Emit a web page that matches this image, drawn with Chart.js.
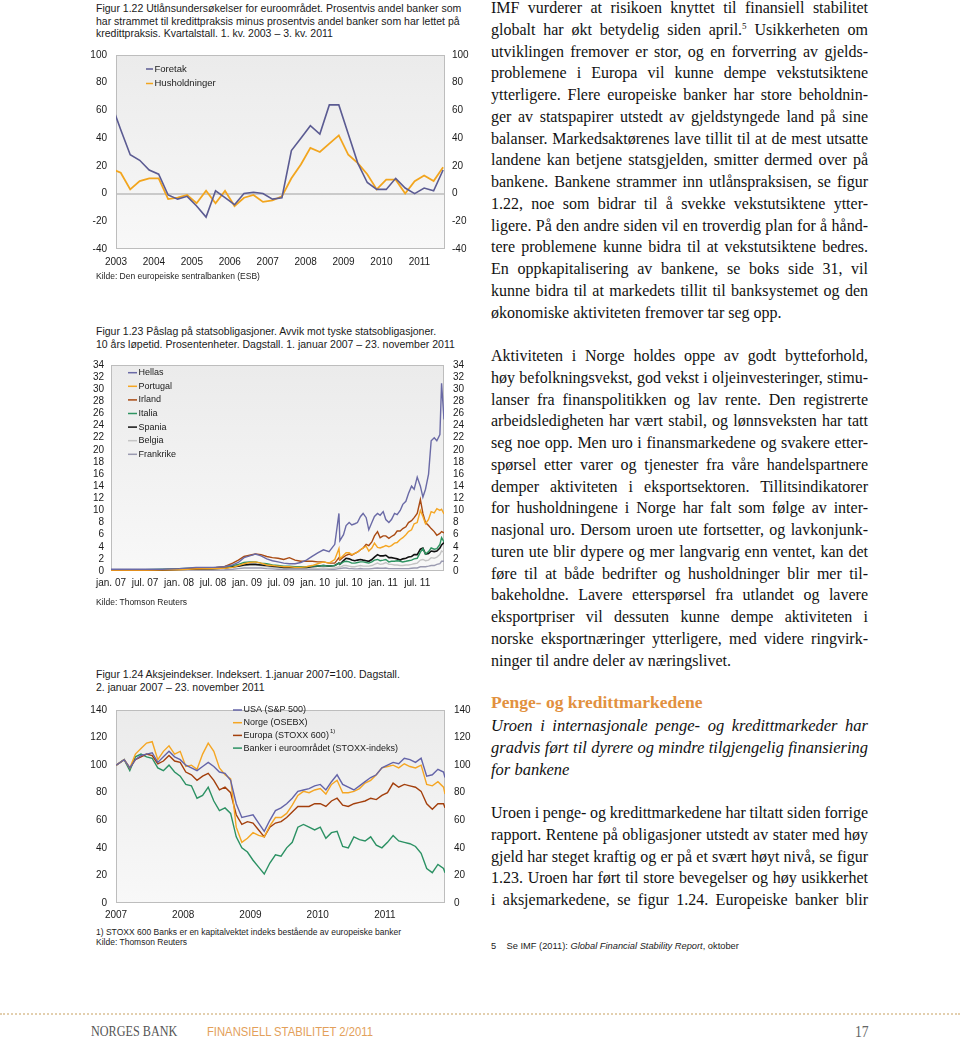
<!DOCTYPE html>
<html><head><meta charset="utf-8">
<script src="https://cdn.jsdelivr.net/npm/chart.js@4.4.1/dist/chart.umd.min.js"></script>
<style>
body{margin:0;background:#fff;}
#page{position:relative;width:960px;height:1041px;overflow:hidden;background:#fff;}
.t{position:absolute;left:96px;font-family:"Liberation Sans",Arial,sans-serif;font-size:10.5px;line-height:12.5px;color:#1a1a1a;white-space:nowrap;}
.src{position:absolute;left:96px;font-family:"Liberation Sans",Arial,sans-serif;font-size:8.5px;line-height:10px;color:#222;white-space:nowrap;}
canvas{position:absolute;left:0;}
.col{position:absolute;left:491px;width:377px;font-family:"Liberation Serif","Times New Roman",serif;font-size:16px;line-height:21.75px;color:#111;}
.col div{text-align:justify;text-align-last:justify;height:21.75px;word-spacing:-1.5px;}
.col div.l{text-align-last:left;word-spacing:0;}
.col sup{font-size:9px;line-height:0;vertical-align:6px;}
.hd{position:absolute;left:491px;font-family:"Liberation Serif",serif;font-weight:bold;font-size:17.5px;color:#e2913f;line-height:21.75px;white-space:nowrap;}
.fn{position:absolute;left:491px;font-family:"Liberation Sans",Arial,sans-serif;font-size:9.3px;color:#222;white-space:nowrap;}
.foot{position:absolute;white-space:nowrap;transform-origin:left center;}
</style></head>
<body><div id="page">

<div class="t" style="top:2px">Figur 1.22 Utlånsundersøkelser for euroområdet. Prosentvis andel banker som<br>har strammet til kredittpraksis minus prosentvis andel banker som har lettet på<br>kredittpraksis. Kvartalstall. 1. kv. 2003 – 3. kv. 2011</div>
<canvas id="c1" width="480" height="245" style="top:40px"></canvas>
<div class="src" style="top:271px">Kilde: Den europeiske sentralbanken (ESB)</div>

<div class="t" style="top:325px;line-height:13px">Figur 1.23 Påslag på statsobligasjoner. Avvik mot tyske statsobligasjoner.<br>10 års løpetid. Prosentenheter. Dagstall. 1. januar 2007 – 23. november 2011</div>
<canvas id="c2" width="480" height="250" style="top:350px"></canvas>
<div class="src" style="top:597px">Kilde: Thomson Reuters</div>

<div class="t" style="top:668px">Figur 1.24 Aksjeindekser. Indeksert. 1.januar 2007=100. Dagstall.<br>2. januar 2007 – 23. november 2011</div>
<canvas id="c3" width="480" height="230" style="top:695px"></canvas>
<div class="src" style="top:927px">1) STOXX 600 Banks er en kapitalvektet indeks bestående av europeiske banker</div>
<div class="src" style="top:937px">Kilde: Thomson Reuters</div>

<div class="col" style="top:-3px">
<div>IMF vurderer at risikoen knyttet til finansiell stabilitet</div>
<div>globalt har økt betydelig siden april.<sup>5</sup> Usikkerheten om</div>
<div>utviklingen fremover er stor, og en forverring av gjelds-</div>
<div>problemene i Europa vil kunne dempe vekstutsiktene</div>
<div>ytterligere. Flere europeiske banker har store beholdnin-</div>
<div>ger av statspapirer utstedt av gjeldstyngede land på sine</div>
<div>balanser. Markedsaktørenes lave tillit til at de mest utsatte</div>
<div>landene kan betjene statsgjelden, smitter dermed over på</div>
<div>bankene. Bankene strammer inn utlånspraksisen, se figur</div>
<div>1.22, noe som bidrar til å svekke vekstutsiktene ytter-</div>
<div>ligere. På den andre siden vil en troverdig plan for å hånd-</div>
<div>tere problemene kunne bidra til at vekstutsiktene bedres.</div>
<div>En oppkapitalisering av bankene, se boks side 31, vil</div>
<div>kunne bidra til at markedets tillit til banksystemet og den</div>
<div class="l">økonomiske aktiviteten fremover tar seg opp.</div>
</div>

<div class="col" style="top:345px">
<div>Aktiviteten i Norge holdes oppe av godt bytteforhold,</div>
<div>høy befolkningsvekst, god vekst i oljeinvesteringer, stimu-</div>
<div>lanser fra finanspolitikken og lav rente. Den registrerte</div>
<div>arbeidsledigheten har vært stabil, og lønnsveksten har tatt</div>
<div>seg noe opp. Men uro i finansmarkedene og svakere etter-</div>
<div>spørsel etter varer og tjenester fra våre handelspartnere</div>
<div>demper aktiviteten i eksportsektoren. Tillitsindikatorer</div>
<div>for husholdningene i Norge har falt som følge av inter-</div>
<div>nasjonal uro. Dersom uroen ute fortsetter, og lavkonjunk-</div>
<div>turen ute blir dypere og mer langvarig enn ventet, kan det</div>
<div>føre til at både bedrifter og husholdninger blir mer til-</div>
<div>bakeholdne. Lavere etterspørsel fra utlandet og lavere</div>
<div>eksportpriser vil dessuten kunne dempe aktiviteten i</div>
<div>norske eksportnæringer ytterligere, med videre ringvirk-</div>
<div class="l">ninger til andre deler av næringslivet.</div>
</div>

<div class="hd" style="top:692px">Penge- og kredittmarkedene</div>
<div class="col" style="top:715px;font-style:italic;font-size:16.5px">
<div>Uroen i internasjonale penge- og kredittmarkeder har</div>
<div>gradvis ført til dyrere og mindre tilgjengelig finansiering</div>
<div class="l">for bankene</div>
</div>

<div class="col" style="top:802px">
<div>Uroen i penge- og kredittmarkedene har tiltatt siden forrige</div>
<div>rapport. Rentene på obligasjoner utstedt av stater med høy</div>
<div>gjeld har steget kraftig og er på et svært høyt nivå, se figur</div>
<div>1.23. Uroen har ført til store bevegelser og høy usikkerhet</div>
<div>i aksjemarkedene, se figur 1.24. Europeiske banker blir</div>
</div>

<div class="fn" style="top:941px">5&nbsp;&nbsp;&nbsp; Se IMF (2011): <i>Global Financial Stability Report</i>, oktober</div>

<div style="position:absolute;left:0;top:1013px;width:960px;border-top:2px dotted #e3cfae;"></div>
<div class="foot" style="left:91px;top:1024px;font-family:'Liberation Serif',serif;font-size:14px;color:#555;transform:scaleX(0.87)">NORGES BANK</div>
<div class="foot" style="left:207px;top:1025px;font-family:'Liberation Sans',sans-serif;font-size:12.5px;color:#e3a05a;transform:scaleX(0.9)">FINANSIELL STABILITET 2/2011</div>
<div class="foot" style="left:855px;top:1023px;font-family:'Liberation Serif',serif;font-size:16px;color:#666;transform:scaleX(0.85)">17</div>

</div>
<script>
// ---------- Figur 1.22 ----------
const kvartal = ['2002K4','2003K1','2003K2','2003K3','2003K4','2004K1','2004K2','2004K3','2004K4',
 '2005K1','2005K2','2005K3','2005K4','2006K1','2006K2','2006K3','2006K4','2007K1','2007K2','2007K3','2007K4',
 '2008K1','2008K2','2008K3','2008K4','2009K1','2009K2','2009K3','2009K4','2010K1','2010K2','2010K3','2010K4',
 '2011K1','2011K2','2011K3'];
const foretak = [65,46,28,24,17,14,-1,-4,-2,-9,-17,2,-3,-8,0,1,0,-4,-3,31,40,49,43,64,64,43,22,8,3,3,11,4,0,4,2,17];
const husholdninger = [18,15,3,9,11,11,-4,-3,-1,-7,2,-7,2,-9,-3,-1,-6,-5,-2,11,21,33,30,36,42,28,22,14,3,10,10,0,9,13,9,19];
const aarstall1 = ['2003','2004','2005','2006','2007','2008','2009','2010','2011'];

// ---------- Figur 1.23 ----------
const datoer23 = ['2007-01-01','2007-04-01','2007-07-01','2007-10-01','2008-01-01','2008-04-01','2008-07-01','2008-09-01',
 '2008-10-15','2008-11-15','2008-12-15','2009-01-15','2009-02-15','2009-03-15','2009-04-15','2009-05-15','2009-06-15',
 '2009-07-15','2009-08-15','2009-09-15','2009-10-15','2009-11-15','2009-12-15',
 '2010-01-15','2010-02-15','2010-03-15','2010-04-15','2010-05-07','2010-05-12','2010-06-01','2010-06-15','2010-07-01','2010-07-15',
 '2010-08-01','2010-08-15','2010-09-01','2010-09-15','2010-10-01','2010-10-15','2010-11-01','2010-11-15','2010-12-01','2010-12-15',
 '2011-01-01','2011-01-15','2011-02-01','2011-02-15','2011-03-01','2011-03-15','2011-04-01','2011-04-15','2011-05-01','2011-05-15',
 '2011-06-01','2011-06-15','2011-07-01','2011-07-18','2011-08-01','2011-08-15','2011-09-01','2011-09-15','2011-10-01','2011-10-15',
 '2011-11-01','2011-11-10','2011-11-23'];
const hellas = [0.3,0.3,0.3,0.3,0.4,0.6,0.6,0.7,
 1.0,1.4,2.2,2.5,2.8,2.5,2.0,1.7,1.5,1.3,1.2,1.2,1.4,1.8,2.4,
 3.0,3.5,3.2,4.4,9.5, 5.0,6.0,7.5,8.0,7.6, 7.8,8.0,9.0,9.5,8.8, 6.8,8.0,9.0,9.5,9.2,
 9.8,8.5,8.0,8.5,9.5, 9.3,10.0,11.0,11.5,12.8, 14.0,13.5,15.5,14.0,12.2, 13.5,16.0,21.5,22.0,21.5, 22.5,31.0,25.0];
const portugal = [0.15,0.15,0.15,0.2,0.2,0.35,0.4,0.45,
 0.6,0.9,1.2,1.4,1.5,1.3,1.0,0.9,0.8,0.7,0.7,0.6,0.6,0.7,0.9,
 1.2,1.5,1.3,1.9,3.7, 2.0,2.6,3.0,3.0,2.7, 2.9,3.1,3.5,3.8,4.1, 3.3,3.8,4.6,3.9,3.8,
 4.0,4.2,4.0,4.2,4.6, 4.7,5.2,5.5,6.0,6.5, 6.8,7.8,8.0,10.0,9.0, 7.8,8.5,9.8,9.6,10.3, 10.0,10.2,9.4];
const irland = [0.1,0.1,0.1,0.2,0.3,0.4,0.5,0.7,
 1.3,1.8,2.4,2.6,2.8,2.7,2.4,2.2,2.1,1.9,2.2,1.8,1.6,1.6,1.6,
 1.5,1.5,1.3,1.3,2.2, 1.8,2.3,2.6,2.8,2.6, 2.9,3.1,3.5,3.8,4.4, 4.2,4.8,5.8,6.5,5.5,
 5.8,5.8,5.4,5.7,6.0, 6.6,6.6,7.0,7.3,8.0, 8.3,8.8,9.5,11.8,9.5, 8.0,7.5,7.0,6.5,5.9, 6.2,6.5,6.3];
const italia = [0.2,0.2,0.2,0.3,0.4,0.5,0.5,0.7,
 0.9,1.1,1.4,1.5,1.5,1.3,1.2,1.0,0.9,0.8,0.8,0.7,0.7,0.7,0.8,
 0.8,0.9,0.8,0.9,1.3, 1.1,1.5,1.6,1.5,1.3, 1.3,1.4,1.5,1.5,1.4, 1.3,1.5,1.8,1.9,1.7,
 1.8,1.9,1.5,1.6,1.6, 1.7,1.6,1.5,1.6,1.7, 1.8,2.0,2.1,3.1,3.7, 2.8,3.2,3.8,3.6,3.7, 4.4,5.5,4.8];
const spania = [0.1,0.1,0.1,0.15,0.25,0.35,0.4,0.5,
 0.7,0.8,1.0,1.1,1.1,1.0,0.9,0.8,0.7,0.6,0.6,0.6,0.6,0.6,0.7,
 0.8,0.9,0.8,0.9,1.3, 1.1,1.7,2.1,2.0,1.8, 1.7,1.8,1.9,1.8,1.7, 1.6,1.9,2.3,2.7,2.5,
 2.5,2.6,2.2,2.2,2.1, 2.0,1.8,2.0,2.1,2.3, 2.4,2.7,2.7,3.6,3.8, 2.8,2.9,3.3,3.2,3.3, 3.8,4.3,4.7];
const belgia = [0.05,0.05,0.05,0.1,0.15,0.25,0.3,0.4,
 0.6,0.8,0.9,1.0,1.0,0.9,0.7,0.6,0.5,0.5,0.4,0.4,0.4,0.4,0.4,
 0.4,0.5,0.4,0.5,0.7, 0.6,0.9,0.9,0.8,0.7, 0.7,0.8,0.9,0.8,0.8, 0.8,0.9,1.1,1.3,1.1,
 1.2,1.4,1.1,1.1,1.0, 1.0,0.9,0.9,1.0,1.0, 1.1,1.2,1.3,1.8,1.9, 1.7,1.8,2.2,2.1,2.3, 2.7,3.3,3.1];
const frankrike = [0.03,0.03,0.03,0.05,0.1,0.15,0.15,0.2,
 0.3,0.4,0.5,0.5,0.5,0.5,0.4,0.35,0.3,0.3,0.3,0.3,0.3,0.3,0.3,
 0.3,0.35,0.3,0.3,0.4, 0.4,0.5,0.5,0.4,0.4, 0.35,0.35,0.4,0.35,0.35, 0.35,0.4,0.45,0.5,0.45,
 0.45,0.5,0.4,0.4,0.4, 0.4,0.4,0.4,0.4,0.4, 0.45,0.5,0.5,0.7,0.7, 0.7,0.8,0.9,0.9,1.1, 1.2,1.6,1.6];
const maanedsetiketter = ['jan. 07','jul. 07','jan. 08','jul. 08','jan. 09','jul. 09','jan. 10','jul. 10','jan. 11','jul. 11'];

// ---------- Figur 1.24 ----------
const datoer24 = ['2007-01-02','2007-02-15','2007-03-15','2007-04-15','2007-05-15','2007-06-15','2007-07-15','2007-08-15','2007-09-15','2007-10-15','2007-11-15','2007-12-15',
 '2008-01-15','2008-02-15','2008-03-15','2008-04-15','2008-05-15','2008-06-15','2008-07-15','2008-08-15','2008-09-15','2008-10-15','2008-11-15','2008-12-15',
 '2009-01-15','2009-02-15','2009-03-15','2009-04-15','2009-05-15','2009-06-15','2009-07-15','2009-08-15','2009-09-15','2009-10-15','2009-11-15','2009-12-15',
 '2010-01-15','2010-02-15','2010-03-15','2010-04-15','2010-05-15','2010-06-15','2010-07-15','2010-08-15','2010-09-15','2010-10-15','2010-11-15','2010-12-15',
 '2011-01-15','2011-02-15','2011-03-15','2011-04-15','2011-05-15','2011-06-15','2011-07-15','2011-08-15','2011-09-15','2011-10-15','2011-11-15','2011-11-23'];
const usa = [100,104,98,104,107,108,109,102,106,110,106,104,
 100,98,96,99,102,99,95,94,89,72,62,63,
 64,58,52,60,67,69,72,76,81,82,83,85,
 86,82,88,93,86,84,82,85,88,91,93,98,
 100,102,101,105,104,102,105,92,93,97,95,91];
const norge = [100,104,98,108,112,116,117,104,110,114,108,110,
 99,100,97,108,116,110,98,93,90,55,44,47,
 51,49,48,56,62,62,65,71,78,81,80,82,
 83,79,86,89,80,80,81,83,87,89,93,98,
 99,100,98,101,99,98,100,86,85,88,84,79];
const europa = [100,104,98,104,106,108,107,101,103,107,103,102,
 95,93,89,92,94,89,82,84,80,64,57,59,
 58,53,48,55,58,59,62,66,70,70,70,72,
 72,70,74,76,71,70,72,73,74,76,75,78,
 80,87,84,86,85,84,81,72,68,72,72,69];
const banker = [100,104,96,106,108,106,105,98,96,100,95,92,
 86,85,76,78,84,74,67,69,65,48,40,37,
 31,26,21,29,35,34,40,44,55,57,55,53,
 55,47,51,52,41,40,48,46,45,48,42,40,
 44,49,45,44,43,41,36,25,22,28,25,22];
const aarstall3 = ['2007','2008','2009','2010','2011'];

// ---------- helpers ----------
function mnd(s){const [y,m,d]=s.split('-').map(Number);return (y-2007)*12+(m-1)+(d-1)/30.44;}
function aar(s){const [y,m,d]=s.split('-').map(Number);return y+(m-1)/12+(d-1)/365;}
const FONT = 'Liberation Sans, Arial, sans-serif';
Chart.defaults.font.family = FONT;
Chart.defaults.color = '#1a1a1a';

const plotBg = {
  id:'plotBg',
  beforeDatasetsDraw(chart){
    const {ctx, chartArea:a} = chart;
    ctx.save();
    const g = ctx.createLinearGradient(0,a.top,0,a.bottom);
    g.addColorStop(0,'#ebebeb'); g.addColorStop(1,'#f8f8f8');
    ctx.globalCompositeOperation='destination-over';
    ctx.fillStyle=g; ctx.fillRect(a.left,a.top,a.right-a.left,a.bottom-a.top);
    ctx.restore();
    ctx.save();
    ctx.strokeStyle='#bdbdbd'; ctx.lineWidth=1;
    ctx.strokeRect(Math.round(a.left)+0.5,Math.round(a.top)+0.5,Math.round(a.right-a.left)-1,Math.round(a.bottom-a.top)-1);
    ctx.restore();
  }
};
const inLegend = {
  id:'inLegend',
  afterDatasetsDraw(chart, args, o){
    if(!o || !o.show) return;
    const ctx = chart.ctx; ctx.save();
    chart.data.datasets.forEach((ds,i)=>{
      const y = o.y + i*o.dy;
      ctx.strokeStyle = ds.borderColor; ctx.lineWidth = o.lw;
      ctx.beginPath(); ctx.moveTo(o.x,y); ctx.lineTo(o.x+o.len,y); ctx.stroke();
      ctx.fillStyle='#1a1a1a'; ctx.font=o.font; ctx.textBaseline='middle'; ctx.textAlign='left';
      ctx.fillText(ds.label, o.x+o.len+1.5, y);
      if(ds.sup){ const w = ctx.measureText(ds.label).width; ctx.font=o.supFont; ctx.fillText(ds.sup, o.x+o.len+2.5+w, y-4); }
    });
    ctx.restore();
  }
};
Chart.register(plotBg, inLegend);

function yAxis(pos, min, max, step, width, pad, zero){
  return {
    type:'linear', position:pos, min, max,
    afterFit(s){ s.width = width; },
    border:{display:false},
    grid:{ drawTicks:false, display: pos==='left' && zero,
      color:(c)=> c.tick && c.tick.value===0 ? '#cacaca' : 'rgba(0,0,0,0)', lineWidth:2 },
    ticks:{ stepSize:step, autoSkip:false, padding:pad, font:{size:10}, color:'#1a1a1a' }
  };
}
function xAxis(min, max, tickVals, labels, height, pad){
  return {
    type:'linear', min, max,
    afterFit(s){ s.height = height; },
    afterBuildTicks(s){ s.ticks = tickVals.map(v=>({value:v})); },
    border:{display:false},
    grid:{display:false, drawTicks:false},
    ticks:{ autoSkip:false, maxRotation:0, padding:pad, font:{size:10}, color:'#1a1a1a',
      callback:(v)=>{ const i = tickVals.indexOf(v); return i>=0 ? labels[i] : ''; } }
  };
}
const baseOpts = { responsive:false, animation:false, devicePixelRatio:1,
  plugins:{ legend:{display:false}, tooltip:{enabled:false} },
  elements:{ point:{radius:0}, line:{tension:0} } };

// Chart 1
new Chart(document.getElementById('c1'), {
  type:'line',
  data:{ datasets:[
    { label:'Foretak', data: foretak.map((v,i)=>({x:i-0.5,y:v})), borderColor:'#5b5b92', borderWidth:1.6 },
    { label:'Husholdninger', data: husholdninger.map((v,i)=>({x:i-0.5,y:v})), borderColor:'#f2a51e', borderWidth:1.8 }
  ]},
  options:{ ...baseOpts,
    layout:{padding:{top:9,left:0,right:0,bottom:0}},
    scales:{
      x: xAxis(0, 34.7, aarstall1.map((a,k)=>k*4), aarstall1, 36, 7),
      y: yAxis('left', -40, 100, 20, 116, 9, true),
      y2: yAxis('right', -40, 100, 20, 35, 7, false)
    },
    plugins:{ ...baseOpts.plugins, inLegend:{show:true, x:146, y:29, dy:14.5, len:7, lw:1.5, font:'9.5px '+FONT} }
  }
});

// Chart 2
const c2series = [
  ['Hellas', hellas, '#6a6aa6'],
  ['Portugal', portugal, '#f5a623'],
  ['Irland', irland, '#a94a12'],
  ['Italia', italia, '#2e9461'],
  ['Spania', spania, '#111111'],
  ['Belgia', belgia, '#c4c4c4'],
  ['Frankrike', frankrike, '#9a9ab0']
];
new Chart(document.getElementById('c2'), {
  type:'line',
  data:{ datasets: c2series.map(([lab,arr,col])=>({
    label:lab, data: arr.map((v,i)=>({x:mnd(datoer23[i]), y:v})), borderColor:col, borderWidth: lab==='Spania'?1.6:1.4 })) },
  options:{ ...baseOpts,
    layout:{padding:{top:11,left:0,right:0,bottom:0}},
    scales:{
      x: xAxis(0, mnd('2011-11-23'), maanedsetiketter.map((a,k)=>k*6), maanedsetiketter, 29, 6),
      y: yAxis('left', 0, 34, 2, 111, 7, false),
      y2: yAxis('right', 0, 34, 2, 36, 9, false)
    },
    plugins:{ ...baseOpts.plugins, inLegend:{show:true, x:128, y:22.7, dy:13.6, len:9, lw:1.5, font:'9px '+FONT} }
  }
});

// Chart 3
const c3series = [
  ['USA (S&P 500)', usa, '#6464a8', ''],
  ['Norge (OSEBX)', norge, '#f5a623', ''],
  ['Europa (STOXX 600)', europa, '#a33f0c', '1)'],
  ['Banker i euroområdet (STOXX-indeks)', banker, '#2b9163', '']
];
new Chart(document.getElementById('c3'), {
  type:'line',
  data:{ datasets: c3series.map(([lab,arr,col,sup])=>({
    label:lab, sup, data: arr.map((v,i)=>({x:aar(datoer24[i]), y:v})), borderColor:col, borderWidth:1.4 })) },
  options:{ ...baseOpts,
    layout:{padding:{top:8,left:0,right:0,bottom:0}},
    scales:{
      x: xAxis(2007, aar('2011-11-23'), aarstall3.map(Number), aarstall3, 22, 6),
      y: yAxis('left', 0, 140, 20, 116, 9, false),
      y2: yAxis('right', 0, 140, 20, 35, 9, false)
    },
    plugins:{ ...baseOpts.plugins, inLegend:{show:true, x:233, y:15, dy:12.7, len:9, lw:1.5, font:'9px '+FONT, supFont:'6px '+FONT} }
  }
});
</script>
</body></html>
